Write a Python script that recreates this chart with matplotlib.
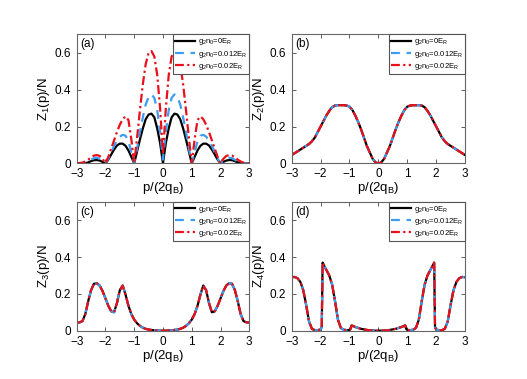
import matplotlib
matplotlib.use('Agg')
import matplotlib.pyplot as plt

plt.rcParams['font.family'] = ['Liberation Sans', 'DejaVu Sans']
plt.rcParams['mathtext.default'] = 'regular'

# p/(2q_B) grid for panels (a)-(c)
x = [-3.0, -2.9, -2.8, -2.7, -2.6, -2.5, -2.4, -2.3, -2.2, -2.1,
     -2.0, -1.9, -1.8, -1.7, -1.6, -1.5, -1.4, -1.3, -1.2, -1.1,
     -1.0, -0.9, -0.8, -0.7, -0.6, -0.5, -0.4, -0.3, -0.2, -0.1,
     0.0, 0.1, 0.2, 0.3, 0.4, 0.5, 0.6, 0.7, 0.8, 0.9,
     1.0, 1.1, 1.2, 1.3, 1.4, 1.5, 1.6, 1.7, 1.8, 1.9,
     2.0, 2.1, 2.2, 2.3, 2.4, 2.5, 2.6, 2.7, 2.8, 2.9, 3.0]

# panel (a): Z1 for the three interaction strengths
z1_g0 = [0.0, 0.0, 0.0, 0.001, 0.005, 0.012, 0.017, 0.018, 0.015, 0.008,
         0.0, 0.02, 0.048, 0.075, 0.097, 0.107, 0.107, 0.095, 0.07, 0.035,
         0.0, 0.065, 0.13, 0.19, 0.24, 0.265, 0.27, 0.25, 0.19, 0.11,
         0.0, 0.11, 0.19, 0.25, 0.27, 0.265, 0.24, 0.19, 0.13, 0.065,
         0.0, 0.035, 0.07, 0.095, 0.107, 0.107, 0.097, 0.075, 0.048, 0.02,
         0.0, 0.008, 0.015, 0.018, 0.017, 0.012, 0.005, 0.001, 0.0, 0.0, 0.0]
z1_g012 = [0.0, 0.0, 0.001, 0.004, 0.01, 0.02, 0.028, 0.03, 0.025, 0.013,
           0.0, 0.025, 0.06, 0.095, 0.125, 0.145, 0.155, 0.15, 0.12, 0.06,
           0.0, 0.08, 0.17, 0.25, 0.32, 0.36, 0.375, 0.355, 0.29, 0.17,
           0.02, 0.17, 0.29, 0.355, 0.375, 0.36, 0.32, 0.25, 0.17, 0.08,
           0.0, 0.06, 0.12, 0.15, 0.155, 0.145, 0.125, 0.095, 0.06, 0.025,
           0.0, 0.013, 0.025, 0.03, 0.028, 0.02, 0.01, 0.004, 0.001, 0.0, 0.0]
z1_g02 = [0.0, 0.002, 0.004, 0.01, 0.02, 0.033, 0.042, 0.045, 0.04, 0.025,
          0.0, 0.035, 0.08, 0.125, 0.17, 0.21, 0.24, 0.255, 0.235, 0.13,
          0.0, 0.14, 0.29, 0.43, 0.54, 0.60, 0.61, 0.58, 0.48, 0.30,
          0.05, 0.30, 0.48, 0.58, 0.61, 0.60, 0.54, 0.43, 0.29, 0.14,
          0.0, 0.13, 0.235, 0.255, 0.24, 0.21, 0.17, 0.125, 0.08, 0.035,
          0.0, 0.025, 0.04, 0.045, 0.042, 0.033, 0.02, 0.01, 0.004, 0.002, 0.0]

# panel (b): Z2 (same for all three curves)
z2 = [0.045, 0.055, 0.065, 0.075, 0.085, 0.095, 0.105, 0.12, 0.14, 0.17,
      0.2, 0.23, 0.26, 0.285, 0.305, 0.314, 0.316, 0.316, 0.316, 0.314,
      0.308, 0.29, 0.26, 0.225, 0.185, 0.14, 0.095, 0.06, 0.025, 0.005,
      0.0, 0.005, 0.025, 0.06, 0.095, 0.14, 0.185, 0.225, 0.26, 0.29,
      0.308, 0.314, 0.316, 0.316, 0.316, 0.314, 0.305, 0.285, 0.26, 0.23,
      0.2, 0.17, 0.14, 0.12, 0.105, 0.095, 0.085, 0.075, 0.065, 0.055, 0.045]

# panel (c): Z3
z3 = [0.045, 0.045, 0.052, 0.09, 0.16, 0.22, 0.255, 0.258, 0.245, 0.215,
      0.175, 0.135, 0.105, 0.10, 0.15, 0.22, 0.245, 0.195, 0.135, 0.09,
      0.06, 0.04, 0.026, 0.016, 0.01, 0.006, 0.004, 0.002, 0.001, 0.0,
      0.0, 0.0, 0.001, 0.002, 0.004, 0.006, 0.01, 0.016, 0.026, 0.04,
      0.06, 0.09, 0.135, 0.195, 0.245, 0.22, 0.15, 0.10, 0.105, 0.135,
      0.175, 0.215, 0.245, 0.258, 0.255, 0.22, 0.16, 0.09, 0.052, 0.045, 0.045]

# panel (d): Z4, finer points around the sharp edges
x4 = [-3.0, -2.9, -2.8, -2.7, -2.6, -2.5, -2.4, -2.3, -2.2, -2.1,
      -2.0, -1.96, -1.93, -1.9, -1.8, -1.7, -1.6, -1.5, -1.4, -1.3,
      -1.2, -1.1, -1.0, -0.96, -0.93, -0.9, -0.8, -0.7, -0.6, -0.5,
      -0.4, -0.3, -0.2, -0.1, 0.0,
      0.1, 0.2, 0.3, 0.4, 0.5, 0.6, 0.7, 0.8, 0.9, 0.93,
      0.96, 1.0, 1.1, 1.2, 1.3, 1.4, 1.5, 1.6, 1.7, 1.8,
      1.9, 1.93, 1.96, 2.0, 2.1, 2.2, 2.3, 2.4, 2.5, 2.6,
      2.7, 2.8, 2.9, 3.0]
z4 = [0.29, 0.292, 0.285, 0.265, 0.22, 0.14, 0.05, 0.01, 0.003, 0.003,
      0.006, 0.02, 0.37, 0.36, 0.33, 0.30, 0.25, 0.16, 0.06, 0.015,
      0.005, 0.003, 0.004, 0.01, 0.028, 0.027, 0.02, 0.015, 0.01, 0.007,
      0.004, 0.002, 0.001, 0.0, 0.0,
      0.0, 0.001, 0.002, 0.004, 0.007, 0.01, 0.015, 0.02, 0.027, 0.028,
      0.01, 0.004, 0.003, 0.005, 0.015, 0.06, 0.16, 0.25, 0.30, 0.33,
      0.36, 0.37, 0.02, 0.006, 0.003, 0.003, 0.01, 0.05, 0.14, 0.22,
      0.265, 0.285, 0.292, 0.29]

labels = [r'g$_2$n$_0$=0E$_R$', r'g$_2$n$_0$=0.012E$_R$', r'g$_2$n$_0$=0.02E$_R$']
blue = '#3d9df0'

panels = [
    ('(a)', r'Z$_1$(p)/N', x, [z1_g0, z1_g012, z1_g02]),
    ('(b)', r'Z$_2$(p)/N', x, [z2, z2, z2]),
    ('(c)', r'Z$_3$(p)/N', x, [z3, z3, z3]),
    ('(d)', r'Z$_4$(p)/N', x4, [z4, z4, z4]),
]
positions = [[0.1455, 0.569, 0.3275, 0.340], [0.5535, 0.569, 0.3290, 0.340],
             [0.1455, 0.1275, 0.3275, 0.340], [0.5535, 0.1275, 0.3290, 0.340]]

fig = plt.figure(figsize=(5.27, 3.79), dpi=100)
for (tag, ylab, xs, ys), pos in zip(panels, positions):
    ax = fig.add_axes(pos)
    ax.plot(xs, ys[0], color='k', lw=1.6, label=labels[0])
    ax.plot(xs, ys[1], color=blue, lw=1.6, ls=(0, (4, 3)), label=labels[1])
    ax.plot(xs, ys[2], color='#e8101a', lw=1.6, ls=(0, (4, 1.5, 1, 1.5)), label=labels[2])
    ax.set_xlim(-3, 3)
    ax.set_ylim(0, 0.7)
    ax.set_xticks([-3, -2, -1, 0, 1, 2, 3])
    ax.set_yticks([0, 0.2, 0.4, 0.6])
    ax.set_yticklabels(['0', '0.2', '0.4', '0.6'])
    ax.set_xticklabels(['\u22123', '\u22122', '\u22121', '0', '1', '2', '3'])
    ax.tick_params(direction='in', length=3, width=0.6, labelsize=8.5,
                   top=True, right=True, colors='#444444', labelcolor='k')
    ax.tick_params(axis='x', pad=3.5)
    ax.tick_params(axis='y', pad=4)
    for s in ax.spines.values():
        s.set_color('#666666')
        s.set_linewidth(0.8)
    ax.set_xlabel(r'p/(2q$_B$)', fontsize=9.5, labelpad=0)
    ax.set_ylabel(ylab, fontsize=9.5, labelpad=2)
    ax.text(0.02, 0.97, tag, transform=ax.transAxes, fontsize=8.5, va='top', ha='left')
    leg = ax.legend(loc='upper right', fontsize=5.5, borderaxespad=0, fancybox=False,
                    handlelength=2.6, handletextpad=0.4, labelspacing=0.15,
                    borderpad=0.25, framealpha=1)
    leg.get_frame().set_edgecolor('#555555')
    leg.get_frame().set_linewidth(0.8)

plt.savefig('out.png', dpi=100)
